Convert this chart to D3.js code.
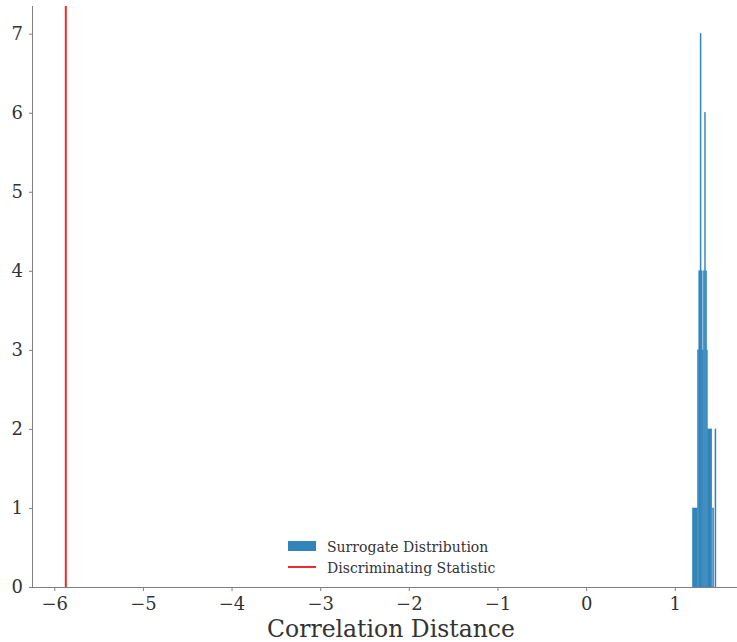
<!DOCTYPE html>
<html>
<head>
<meta charset="utf-8">
<script src="https://cdn.jsdelivr.net/npm/d3@7"></script>
<style>
  html, body { margin: 0; padding: 0; background: #ffffff; }
  svg { display: block; }
  text { font-family: "DejaVu Serif", serif; }
</style>
</head>
<body>
<svg id="chart" width="737" height="642"></svg>
<script>
// ---- data ----
const binStarts = [1.198, 1.255, 1.270, 1.285, 1.297, 1.310, 1.322, 1.335, 1.347, 1.360, 1.368, 1.425, 1.453];
const binEnds   = [1.255, 1.270, 1.285, 1.297, 1.310, 1.322, 1.335, 1.347, 1.360, 1.368, 1.418, 1.440, 1.465];
const binCounts = [1,     3,     4,     7,     4,     3,     4,     6,     4,     3,     2,     1,     2];
const statistic = -5.87;
const xTicks = [-6, -5, -4, -3, -2, -1, 0, 1];
const yTicks = [0, 1, 2, 3, 4, 5, 6, 7];
const xDomain = [-6.24, 1.86];
const yDomain = [0, 7.35];
const xLabel = "Correlation Distance";
const legendLabels = ["Surrogate Distribution", "Discriminating Statistic"];

const svg = d3.select("#chart");
const W = 737, H = 642;
const m = { left: 33, top: 6, bottom: 55 };
const plotRight = 751;

const x = d3.scaleLinear().domain(xDomain).range([m.left, plotRight]);
const y = d3.scaleLinear().domain(yDomain).range([H - m.bottom, m.top]);

const axisColor = "#7f7f7f";
const textColor = "#333333";
const barColor = "#3285bb";

// bars
const bins = binStarts.map((s, i) => ({ x0: s, x1: binEnds[i], n: binCounts[i] }));
svg.append("g").selectAll("rect").data(bins).join("rect")
  .attr("x", d => x(d.x0))
  .attr("width", d => Math.max(0.8, x(d.x1) - x(d.x0)))
  .attr("y", d => y(d.n))
  .attr("height", d => y(0) - y(d.n))
  .attr("fill", barColor)
  .attr("stroke", barColor)
  .attr("stroke-width", 0.4);

// discriminating statistic line
svg.append("line")
  .attr("x1", x(statistic)).attr("x2", x(statistic))
  .attr("y1", y(yDomain[1])).attr("y2", y(0))
  .attr("stroke", "#ee2a2a").attr("stroke-width", 2);

// axes
const xAxis = svg.append("g").attr("transform", `translate(0,${y(0)})`)
  .call(d3.axisBottom(x).tickValues(xTicks).tickSize(4).tickPadding(6)
    .tickFormat(d => d < 0 ? "\u2212" + Math.abs(d) : String(d)));
xAxis.select(".domain").attr("stroke", axisColor).attr("d", `M${m.left},0.5H${W}`);
xAxis.selectAll(".tick line").attr("stroke", axisColor);
xAxis.selectAll(".tick text").attr("fill", textColor).style("font-size", "18px").style("font-family", "DejaVu Serif, serif");

const yAxis = svg.append("g").attr("transform", `translate(${m.left},0)`)
  .call(d3.axisLeft(y).tickValues(yTicks).tickSize(4).tickPadding(6));
yAxis.select(".domain").attr("stroke", axisColor).attr("d", `M-0.5,${y(0)}V${y(yDomain[1])}`);
yAxis.selectAll(".tick line").attr("stroke", axisColor);
yAxis.selectAll(".tick text").attr("fill", textColor).style("font-size", "18px").style("font-family", "DejaVu Serif, serif");

// x label
svg.append("text")
  .attr("x", 391).attr("y", 637)
  .attr("text-anchor", "middle")
  .attr("fill", textColor)
  .style("font-size", "23.5px")
  .text(xLabel);

// legend
const lg = svg.append("g").attr("transform", "translate(288,540)");
lg.append("rect").attr("x", 0).attr("y", 1).attr("width", 28).attr("height", 10).attr("fill", barColor);
lg.append("line").attr("x1", 0).attr("x2", 28).attr("y1", 27).attr("y2", 27)
  .attr("stroke", "#ee2a2a").attr("stroke-width", 2);
lg.selectAll("text.lab").data(legendLabels).join("text")
  .attr("class", "lab")
  .attr("x", 39).attr("y", (d, i) => 12 + i * 21)
  .attr("fill", textColor)
  .style("font-size", "14px")
  .text(d => d);
</script>
</body>
</html>
